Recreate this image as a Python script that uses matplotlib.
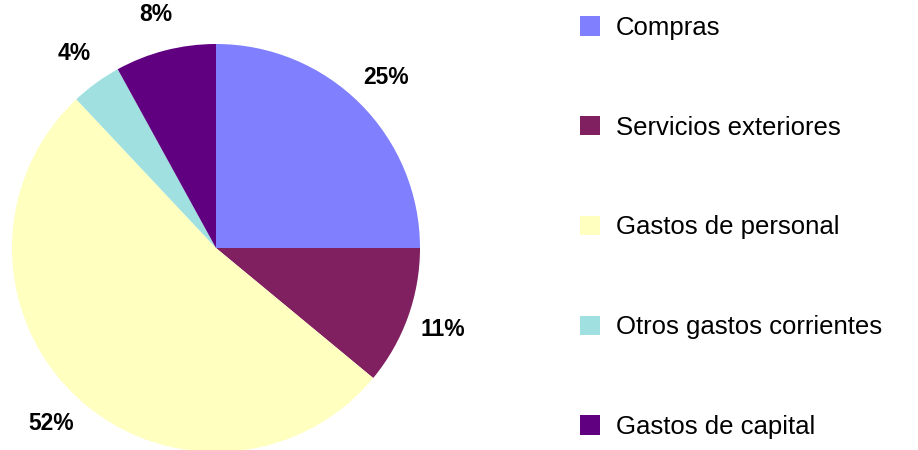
import matplotlib
matplotlib.use("Agg")
import matplotlib.pyplot as plt

# ── Data ──────────────────────────────────────────────────────────────────────
categories = ["Compras", "Servicios exteriores", "Gastos de personal",
              "Otros gastos corrientes", "Gastos de capital"]
shares = [25, 11, 52, 4, 8]
colors = ["#8080FF", "#802060", "#FFFFC0", "#A0E0E0", "#600080"]

plt.rcParams["font.family"] = ["Liberation Sans", "DejaVu Sans"]

# ── Draw ──────────────────────────────────────────────────────────────────────
W, H = 918, 450
fig = plt.figure(figsize=(W / 100, H / 100), dpi=100, facecolor="white")

# pie centre ~ (216, 248) px, radius ~ 204 px
cx, cy, r = 216, H - 248, 204
ax = fig.add_axes([(cx - r) / W, (cy - r) / H, 2 * r / W, 2 * r / H])

wedges, _, autotexts = ax.pie(
    shares, colors=colors, startangle=90, counterclock=False, radius=1,
    autopct="%1.0f%%", pctdistance=1.18,
    wedgeprops=dict(linewidth=0),
    textprops=dict(fontsize=16.5, fontweight="bold", color="black"),
)
ax.set_xlim(-1, 1)
ax.set_ylim(-1, 1)
ax.set_aspect("equal")
ax.axis("off")
for t in autotexts:
    t.set_clip_on(False)

fig.legend(wedges, categories, loc="upper left",
           bbox_to_anchor=(567 / W, 1 - 3 / H), frameon=False,
           fontsize=18.5, handlelength=0.78, handleheight=0.78,
           handletextpad=0.62, labelspacing=2.95, borderpad=0)

fig.savefig("out.png", dpi=100, facecolor="white")
